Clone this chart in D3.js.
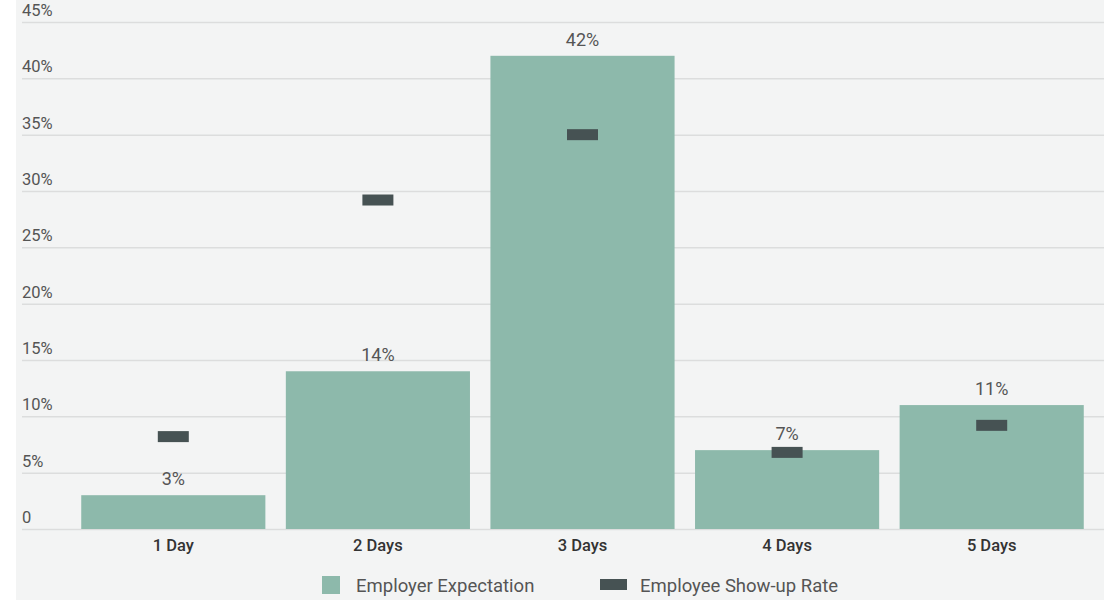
<!DOCTYPE html>
<html>
<head>
<script src="https://d3js.org/d3.v7.min.js"></script>
<style>
  body { margin: 0; background: #fff; }
  svg text { font-family: Roboto, "Noto Sans", sans-serif; }
  .grid line { stroke: #dcdddd; stroke-width: 1.5px; }
  .grid .domain { stroke: none; }
</style>
</head>
<body>
<script>
// data
const categories = ['1 Day', '2 Days', '3 Days', '4 Days', '5 Days'];
const expectation = [3, 14, 42, 7, 11];
const showUp = [8.2, 29.2, 35, 6.8, 9.2];
const yTicks = [0, 5, 10, 15, 20, 25, 30, 35, 40, 45];
const seriesNames = ['Employer Expectation', 'Employee Show-up Rate'];

const W = 1119, H = 600;
const barColor = '#8db9ab', markColor = '#465253';

const svg = d3.select('body').append('svg')
  .attr('width', W)
  .attr('height', H);

// panel background
svg.append('rect')
  .attr('x', 16).attr('y', 0)
  .attr('width', 1088).attr('height', H)
  .attr('fill', '#f3f4f4');

const plot = {left: 22, right: 1104, top: 22, bottom: 529};

const x = d3.scaleBand()
  .domain(categories)
  .range([71, 1094])
  .paddingInner(0.1)
  .paddingOuter(0.05);

const y = d3.scaleLinear()
  .domain([0, 45])
  .range([plot.bottom, plot.top]);

// gridlines
svg.append('g')
  .attr('class', 'grid')
  .attr('transform', `translate(${plot.left},0)`)
  .call(d3.axisLeft(y).tickValues(yTicks).tickSize(-(plot.right - plot.left)).tickFormat(''));

// y labels, sitting above each line
svg.append('g')
  .selectAll('text')
  .data(yTicks)
  .join('text')
  .attr('x', plot.left)
  .attr('y', d => y(d) - 6)
  .attr('fill', '#555')
  .style('font-size', '16.5px')
  .text(d => d === 0 ? '0' : d + '%');

// bars
svg.append('g')
  .selectAll('rect')
  .data(categories)
  .join('rect')
  .attr('x', d => x(d))
  .attr('width', x.bandwidth())
  .attr('y', (d, i) => y(expectation[i]))
  .attr('height', (d, i) => y(0) - y(expectation[i]))
  .attr('fill', barColor);

// bar labels
svg.append('g')
  .selectAll('text')
  .data(categories)
  .join('text')
  .attr('x', d => x(d) + x.bandwidth() / 2)
  .attr('y', (d, i) => y(expectation[i]) - 10)
  .attr('text-anchor', 'middle')
  .attr('fill', '#555')
  .style('font-size', '18px')
  .text((d, i) => expectation[i] + '%');

// show-up markers
const mw = 31, mh = 11;
svg.append('g')
  .selectAll('rect')
  .data(categories)
  .join('rect')
  .attr('x', d => x(d) + x.bandwidth() / 2 - mw / 2)
  .attr('y', (d, i) => y(showUp[i]) - mh / 2)
  .attr('width', mw)
  .attr('height', mh)
  .attr('fill', markColor);

// x labels
svg.append('g')
  .selectAll('text')
  .data(categories)
  .join('text')
  .attr('x', d => x(d) + x.bandwidth() / 2)
  .attr('y', 551)
  .attr('text-anchor', 'middle')
  .attr('fill', '#333')
  .style('font-size', '16.5px')
  .style('font-weight', 500)
  .text(d => d);

// legend
const lg = svg.append('g');
lg.append('rect')
  .attr('x', 322).attr('y', 576).attr('width', 18).attr('height', 18)
  .attr('fill', barColor);
lg.append('text')
  .attr('x', 356).attr('y', 592)
  .attr('fill', '#555').style('font-size', '18.5px')
  .text(seriesNames[0]);
lg.append('rect')
  .attr('x', 600).attr('y', 579).attr('width', 27).attr('height', 11)
  .attr('fill', markColor);
lg.append('text')
  .attr('x', 640).attr('y', 592)
  .attr('fill', '#555').style('font-size', '18.5px')
  .text(seriesNames[1]);
</script>
</body>
</html>
